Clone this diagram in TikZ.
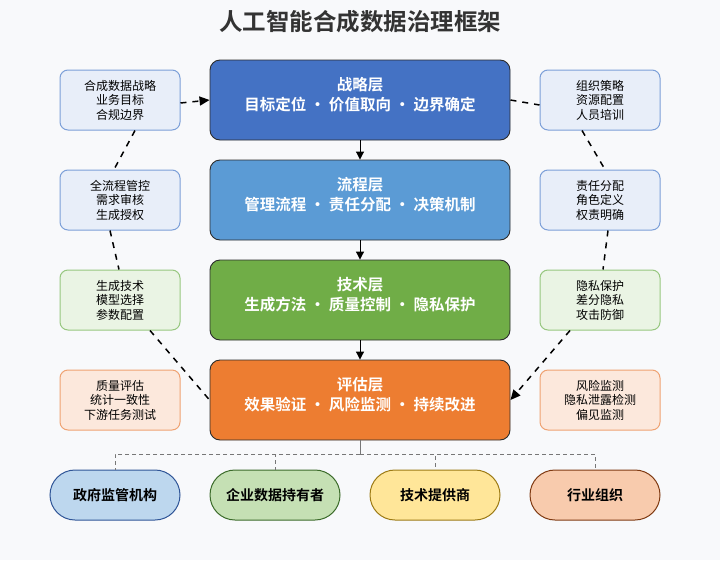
\documentclass[tikz,border=0pt]{standalone}
\usepackage{fontspec}
\setmainfont{Noto Sans CJK SC}[BoldFont={Noto Sans CJK SC Bold}]
\usetikzlibrary{arrows.meta}
\definecolor{pagebg}{HTML}{F8F9FB}
\definecolor{titleink}{HTML}{333333}
\definecolor{layerline}{HTML}{2B2B2B}
\definecolor{stratfill}{HTML}{4472C4}
\definecolor{procfill}{HTML}{5B9BD5}
\definecolor{techfill}{HTML}{70AD47}
\definecolor{evalfill}{HTML}{ED7D31}
\definecolor{sidebluefill}{HTML}{E8EEF9}
\definecolor{sidebluedraw}{HTML}{7C9FD8}
\definecolor{sidegreenfill}{HTML}{EAF4E4}
\definecolor{sidegreendraw}{HTML}{97C77F}
\definecolor{sideorangefill}{HTML}{FCE8DC}
\definecolor{sideorangedraw}{HTML}{EFA272}
\definecolor{govfill}{HTML}{BDD7EE}
\definecolor{govdraw}{HTML}{2F5597}
\definecolor{entfill}{HTML}{C5E0B4}
\definecolor{entdraw}{HTML}{3B6B2A}
\definecolor{vendfill}{HTML}{FFE699}
\definecolor{venddraw}{HTML}{9C7A14}
\definecolor{indfill}{HTML}{F8CBAD}
\definecolor{inddraw}{HTML}{7F3A12}
\definecolor{busgray}{HTML}{777777}

\begin{document}
\begin{tikzpicture}[
  x=1pt,
  y=-1pt,
  every node/.style={inner sep=0pt},
  layer/.style={draw=layerline, line width=0.9pt, rounded corners=10pt,
                minimum width=300pt, minimum height=80pt, align=center,
                text height=32pt, text depth=12pt,
                text=white, font=\fontsize{15.5}{19.5}\selectfont\bfseries},
  side/.style={line width=1pt, rounded corners=8pt,
               minimum width=120pt, minimum height=60pt, align=center,
               text=black, font=\fontsize{12}{14.5}\selectfont},
  sideblue/.style={side, draw=sidebluedraw, fill=sidebluefill},
  sidegreen/.style={side, draw=sidegreendraw, fill=sidegreenfill},
  sideorange/.style={side, draw=sideorangedraw, fill=sideorangefill},
  party/.style={line width=1pt, rounded corners=25pt,
                minimum width=130pt, minimum height=50pt,
                font=\fontsize{14}{16}\selectfont\bfseries},
  flow/.style={black, line width=1pt, -{Triangle[length=8pt, width=8pt]}},
  loopline/.style={black, line width=1.5pt, dash pattern=on 6pt off 6pt},
  looparrow/.style={loopline, -{Triangle[length=10pt, width=9pt]}},
  stem/.style={busgray, line width=1pt},
  bus/.style={busgray, line width=1pt, dash pattern=on 4pt off 3pt}
]
  % ---- page and title ----------------------------------------------------
  \fill[pagebg] (0,0) rectangle (720,560);
  \useasboundingbox (0,0) rectangle (720,560);
  \node[text=titleink, font=\fontsize{23.5}{26}\selectfont\bfseries]
    (title) at (360,22) {人工智能合成数据治理框架};

  % ---- the four layers ---------------------------------------------------
  \node[layer, fill=stratfill] (strat) at (360,100)
    {战略层\\目标定位 · 价值取向 · 边界确定};
  \node[layer, fill=procfill] (proc) at (360,200)
    {流程层\\管理流程 · 责任分配 · 决策机制};
  \node[layer, fill=techfill] (tech) at (360,300)
    {技术层\\生成方法 · 质量控制 · 隐私保护};
  \node[layer, fill=evalfill] (eval) at (360,400)
    {评估层\\效果验证 · 风险监测 · 持续改进};

  \draw[flow] (strat.south) -- (proc.north);
  \draw[flow] (proc.south) -- (tech.north);
  \draw[flow] (tech.south) -- (eval.north);

  % ---- left column -------------------------------------------------------
  \node[sideblue] (lstrat) at (120,100) {合成数据战略\\业务目标\\合规边界};
  \node[sideblue] (lproc) at (120,200) {全流程管控\\需求审核\\生成授权};
  \node[sidegreen] (ltech) at (120,300) {生成技术\\模型选择\\参数配置};
  \node[sideorange] (leval) at (120,400) {质量评估\\统计一致性\\下游任务测试};

  % ---- right column ------------------------------------------------------
  \node[sideblue] (rstrat) at (600,100) {组织策略\\资源配置\\人员培训};
  \node[sideblue] (rproc) at (600,200) {责任分配\\角色定义\\权责明确};
  \node[sidegreen] (rtech) at (600,300) {隐私保护\\差分隐私\\攻击防御};
  \node[sideorange] (reval) at (600,400) {风险监测\\隐私泄露检测\\偏见监测};

  % ---- the dashed cycle round the layers ---------------------------------
  \draw[looparrow] ([yshift=-3pt]lstrat.east) -- (strat.west);
  \draw[loopline] ([xshift=15pt]lstrat.south) -- ([xshift=-6pt]lproc.north);
  \draw[loopline] ([xshift=-10pt]lproc.south) -- ([xshift=-1pt]ltech.north);
  \draw[loopline] ([xshift=30pt]ltech.south) -- (eval.west);
  \draw[loopline] (strat.east) -- ([yshift=-5pt]rstrat.west);
  \draw[loopline] ([xshift=-18pt]rstrat.south) -- ([xshift=5pt]rproc.north);
  \draw[loopline] ([xshift=8pt]rproc.south) -- ([xshift=3pt]rtech.north);
  \draw[looparrow] ([xshift=-30pt]rtech.south) -- (eval.east);

  % ---- stakeholders ------------------------------------------------------
  \node[party, draw=govdraw, fill=govfill] (gov) at (115,495) {政府监管机构};
  \node[party, draw=entdraw, fill=entfill] (ent) at (275,495) {企业数据持有者};
  \node[party, draw=venddraw, fill=vendfill] (vend) at (435,495) {技术提供商};
  \node[party, draw=inddraw, fill=indfill] (ind) at (595,495) {行业组织};

  \coordinate (busmid) at (360,454);
  \draw[stem] (eval.south) -- (busmid);
  \foreach \p in {gov, ent, vend, ind}
    \draw[bus] (busmid) -| (\p.north);
\end{tikzpicture}
\end{document}
